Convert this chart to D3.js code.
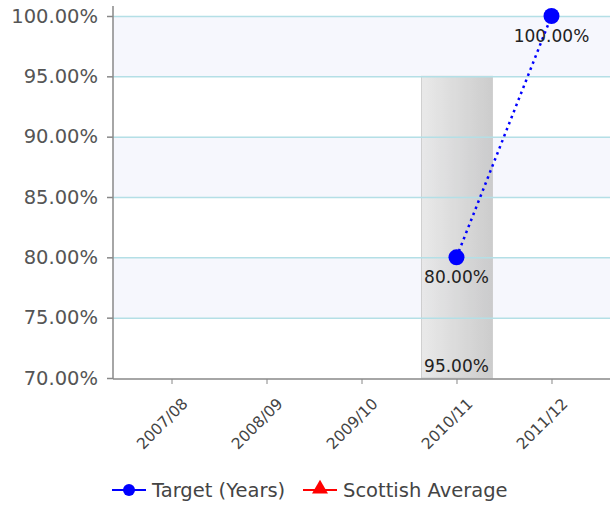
<!DOCTYPE html>
<html>
<head>
<meta charset="utf-8">
<script src="https://cdn.jsdelivr.net/npm/d3@7"></script>
<style>
  body { margin: 0; background: #fff; }
  svg { display: block; font-family: "DejaVu Sans", sans-serif; }
</style>
</head>
<body>
<svg id="chart" width="610" height="507"></svg>
<script>
var years = ['2007/08', '2008/09', '2009/10', '2010/11', '2011/12']
var yTicks = [70, 75, 80, 85, 90, 95, 100]
// gray bar (value shown at its foot)
var barYears = ['2010/11']
var barValues = [95]
// Target (Years) line
var targetYears = ['2010/11', '2011/12']
var targetValues = [80, 100]
var legendNames = ['Target (Years)', 'Scottish Average']
var legendColors = ['#0000ff', '#ff0000']

var svg = d3.select('#chart')
var plotL = 113, plotR = 610, plotT = 16, plotB = 378

var x = d3.scalePoint().domain(years).range([plotL, plotR]).padding(0.616)
var y = d3.scaleLinear().domain([70, 100]).range([plotB, plotT])

var defs = svg.append('defs')
var grad = defs.append('linearGradient').attr('id', 'barGrad')
grad.append('stop').attr('offset', '0%').attr('stop-color', '#e6e6e6')
grad.append('stop').attr('offset', '100%').attr('stop-color', '#c4c4c4')

// alternate bands
for (var i = 0; i < yTicks.length - 1; i++) {
  if ((yTicks.length - 2 - i) % 2 == 0) {
    svg.append('rect')
      .attr('x', plotL).attr('width', plotR - plotL)
      .attr('y', y(yTicks[i + 1])).attr('height', y(yTicks[i]) - y(yTicks[i + 1]))
      .style('fill', '#f6f7fd')
  }
}

// bar
var barW = 71
svg.selectAll('.bar').data(barYears).enter().append('rect')
  .attr('x', function(d){ return x(d) - barW / 2 + 0.5 })
  .attr('width', barW)
  .attr('y', function(d, i){ return y(barValues[i]) })
  .attr('height', function(d, i){ return plotB - y(barValues[i]) })
  .style('fill', 'url(#barGrad)')
  .style('stroke', '#c8c8c8')
  .style('opacity', 0.85)

// grid lines
svg.selectAll('.grid').data(yTicks.slice(1)).enter().append('line')
  .attr('x1', plotL).attr('x2', plotR)
  .attr('y1', function(d){ return y(d) + 0.5 }).attr('y2', function(d){ return y(d) + 0.5 })
  .style('stroke', '#b4dfe6').style('stroke-width', 1.5)

svg.selectAll('.barlabel').data(barYears).enter().append('text')
  .attr('x', function(d){ return x(d) }).attr('y', 372)
  .attr('text-anchor', 'middle')
  .style('font-size', '17px').style('fill', '#222')
  .text(function(d, i){ return barValues[i].toFixed(2) + '%' })

// axes
var yAxis = svg.append('g').attr('transform', 'translate(' + plotL + ',0)')
  .call(d3.axisLeft(y).tickValues(yTicks).tickSize(6).tickPadding(9)
    .tickFormat(function(d){ return d.toFixed(2) + '%' }))
yAxis.select('.domain').remove()
yAxis.append('line').attr('x1', 0).attr('x2', 0).attr('y1', 6).attr('y2', plotB + 1)
yAxis.selectAll('line').style('stroke', '#888').style('stroke-width', 1.5)
yAxis.selectAll('text').style('font-size', '19.5px').style('fill', '#555')
  .style('font-family', '"DejaVu Sans", sans-serif')

var xAxis = svg.append('g').attr('transform', 'translate(0,' + (plotB + 1) + ')')
  .call(d3.axisBottom(x).tickSize(5).tickSizeOuter(0))
xAxis.select('.domain').attr('d', 'M' + plotL + ',0H' + plotR).style('stroke', '#888').style('stroke-width', 1.5)
xAxis.selectAll('line').style('stroke', '#888')
xAxis.selectAll('text')
  .attr('text-anchor', 'end')
  .attr('dy', null)
  .attr('transform', 'translate(11,20) rotate(-45)')
  .style('font-size', '15.5px').style('fill', '#444')
  .style('font-family', '"DejaVu Sans", sans-serif')

// target line
var line = d3.line()
  .x(function(d){ return x(d.year) })
  .y(function(d){ return y(d.value) })
var targetData = targetYears.map(function(d, i){ return { year: d, value: targetValues[i] } })

svg.append('path').datum(targetData)
  .attr('d', line)
  .style('fill', 'none').style('stroke', '#0000ff').style('stroke-width', 2.5)
  .style('stroke-dasharray', '2.5,4')

svg.selectAll('.pt').data(targetData).enter().append('circle')
  .attr('cx', function(d){ return x(d.year) })
  .attr('cy', function(d){ return y(d.value) })
  .attr('r', 8)
  .style('fill', '#0000ff')

svg.selectAll('.ptlabel').data(targetData).enter().append('text')
  .attr('x', function(d){ return x(d.year) })
  .attr('y', function(d){ return y(d.value) + 26 })
  .attr('text-anchor', 'middle')
  .style('font-size', '17px').style('fill', '#222')
  .text(function(d){ return d.value.toFixed(2) + '%' })

// legend
var lg = svg.append('g').attr('transform', 'translate(112,490)')
var lx = [0, 191]
legendNames.forEach(function(name, i){
  var g = lg.append('g').attr('transform', 'translate(' + lx[i] + ',0)')
  g.append('line').attr('x1', 0).attr('x2', 34).attr('y1', 0).attr('y2', 0)
    .style('stroke', legendColors[i]).style('stroke-width', 2)
  if (i == 0) {
    g.append('circle').attr('cx', 17).attr('r', 6).style('fill', legendColors[i])
  } else {
    g.append('path').attr('d', d3.symbol().type(d3.symbolTriangle).size(110)())
      .attr('transform', 'translate(17,-1)').style('fill', legendColors[i])
  }
  g.append('text').attr('x', 40).attr('y', 7)
    .style('font-size', '19.5px').style('fill', '#444')
    .text(name)
})
</script>
</body>
</html>
